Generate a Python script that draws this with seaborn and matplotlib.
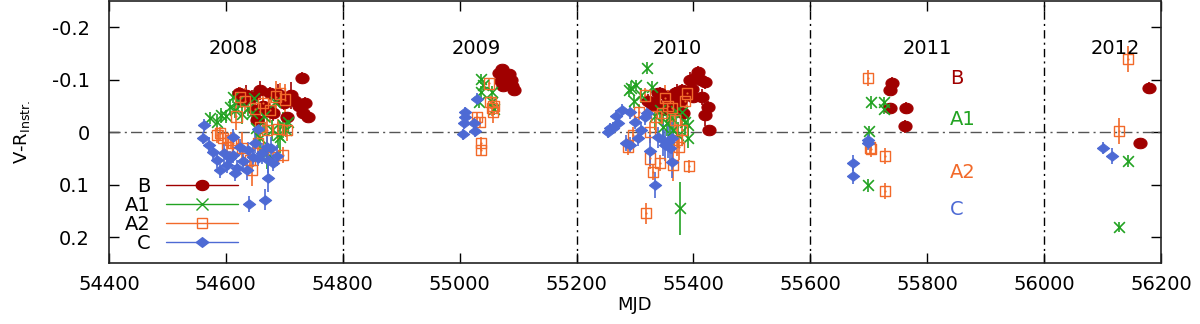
import numpy as np
import matplotlib
matplotlib.use("Agg")
import matplotlib.pyplot as plt
import seaborn as sns
from matplotlib.lines import Line2D
from matplotlib.path import Path

# component B (2008 | 2009 | 2010 | 2011 | 2012)
b_mjd = [54622, 54627, 54634, 54645, 54650, 54653, 54658, 54664, 54672, 54675, 54681,
         54689, 54695, 54700, 54705, 54712, 54718, 54725, 54730, 54732, 54736, 54741,
         55068, 55070, 55072, 55075, 55085, 55088, 55090, 55093,
         55322, 55326, 55331, 55334, 55339, 55343, 55350, 55356, 55360, 55365, 55368,
         55372, 55377, 55380, 55382, 55389, 55394, 55397, 55399, 55404, 55408, 55413,
         55415, 55420, 55420, 55425, 55427,
         55740, 55736, 55736, 55764, 55762,
         56179, 56164]
b_vr = [-0.075, -0.062, -0.070, -0.068, -0.042, -0.024, -0.080, -0.050, -0.040, -0.074, -0.036,
        -0.072, -0.062, -0.055, -0.028, -0.070, -0.060, -0.050, -0.103, -0.036, -0.055, -0.029,
        -0.112, -0.098, -0.120, -0.088, -0.110, -0.100, -0.088, -0.080,
        -0.060, -0.057, -0.051, -0.055, -0.074, -0.074, -0.045, -0.068, -0.061, -0.048, -0.074,
        -0.076, -0.060, -0.080, -0.036, -0.074, -0.099, -0.082, -0.067, -0.105, -0.114, -0.100,
        -0.067, -0.095, -0.032, -0.048, -0.004,
        -0.093, -0.080, -0.046, -0.046, -0.011,
        -0.084, 0.021]
b_err = [0.012, 0.015, 0.020, 0.012, 0.012, 0.010, 0.018, 0.015, 0.012, 0.012, 0.015,
         0.020, 0.015, 0.012, 0.010, 0.025, 0.015, 0.012, 0.012, 0.010, 0.012, 0.010,
         0.008, 0.008, 0.008, 0.008, 0.008, 0.008, 0.008, 0.008,
         0.012, 0.010, 0.012, 0.010, 0.010, 0.012, 0.015, 0.012, 0.015, 0.012, 0.012,
         0.015, 0.015, 0.012, 0.012, 0.010, 0.015, 0.012, 0.012, 0.015, 0.012, 0.012,
         0.015, 0.012, 0.020, 0.012, 0.010,
         0.012, 0.010, 0.010, 0.012, 0.012,
         0.012, 0.010]

# component A1
a1_mjd = [54573, 54585, 54592, 54600, 54607, 54612, 54615, 54620, 54628, 54638, 54645, 54648,
          54652, 54658, 54665, 54670, 54679, 54684, 54690, 54693, 54698, 54703, 54706,
          55033, 55036, 55036, 55040, 55055, 55055, 55058,
          55289, 55293, 55299, 55302, 55310, 55320, 55329, 55335, 55343, 55348, 55355,
          55360, 55365, 55370, 55374, 55377, 55380, 55385, 55391, 55391,
          55704, 55726, 55726, 55700, 55699,
          56144, 56128]
a1_vr = [-0.027, -0.020, -0.032, -0.030, -0.048, -0.067, -0.042, -0.060, -0.035, -0.046, -0.036, -0.065,
         -0.008, 0.011, -0.030, 0.040, -0.004, -0.057, 0.005, 0.010, -0.013, -0.005, -0.019,
         -0.057, -0.101, -0.076, -0.090, -0.076, -0.057, -0.045,
         -0.080, -0.085, -0.059, -0.089, -0.070, -0.122, -0.086, -0.030, -0.042, -0.010, -0.017,
         -0.030, -0.005, -0.040, 0.005, 0.145, -0.038, -0.020, -0.013, 0.011,
         -0.057, -0.057, -0.044, -0.002, 0.101,
         0.055, 0.181]
a1_err = [0.012, 0.015, 0.015, 0.012, 0.015, 0.012, 0.015, 0.015, 0.020, 0.015, 0.015, 0.015,
          0.020, 0.025, 0.030, 0.030, 0.020, 0.020, 0.025, 0.030, 0.025, 0.015, 0.020,
          0.010, 0.010, 0.012, 0.010, 0.012, 0.010, 0.012,
          0.012, 0.012, 0.012, 0.010, 0.015, 0.012, 0.012, 0.025, 0.020, 0.030, 0.025,
          0.030, 0.030, 0.025, 0.025, 0.050, 0.030, 0.025, 0.020, 0.020,
          0.012, 0.010, 0.010, 0.010, 0.012,
          0.012, 0.010]

# component A2
a2_mjd = [54585, 54590, 54595, 54602, 54608, 54612, 54618, 54624, 54628, 54633, 54641, 54645,
          54650, 54655, 54658, 54664, 54670, 54675, 54681, 54686, 54690, 54693, 54698, 54701, 54705,
          55030, 55034, 55036, 55037, 55050, 55053, 55055, 55057, 55058,
          55288, 55297, 55307, 55317, 55319, 55326, 55326, 55331, 55336, 55343, 55346,
          55351, 55356, 55363, 55365, 55368, 55372, 55375, 55380, 55385, 55389, 55392,
          55699, 55702, 55704, 55728, 55728,
          56144, 56128]
a2_vr = [0.005, 0.002, 0.011, 0.028, 0.015, 0.021, -0.030, -0.067, 0.030, -0.060, 0.053, 0.072,
         -0.045, 0.020, -0.010, -0.055, -0.004, -0.042, 0.047, -0.068, -0.006, -0.074, 0.044, -0.062, -0.004,
         -0.029, -0.019, 0.021, 0.034, -0.093, -0.057, -0.046, -0.038, -0.050,
         0.028, 0.006, -0.038, -0.070, 0.154, 0.000, 0.050, 0.076, -0.030, 0.059, -0.036,
         -0.065, -0.050, -0.046, 0.063, -0.023, 0.015, 0.028, -0.004, -0.060, -0.074, 0.065,
         -0.103, 0.029, 0.032, 0.046, 0.112,
         -0.139, -0.002]
a2_err = [0.015, 0.012, 0.015, 0.020, 0.015, 0.015, 0.025, 0.020, 0.030, 0.025, 0.025, 0.030,
          0.025, 0.025, 0.020, 0.030, 0.025, 0.025, 0.020, 0.030, 0.020, 0.020, 0.015, 0.030, 0.020,
          0.010, 0.010, 0.012, 0.012, 0.010, 0.012, 0.015, 0.020, 0.015,
          0.015, 0.015, 0.015, 0.015, 0.020, 0.020, 0.020, 0.015, 0.030, 0.015, 0.025,
          0.025, 0.030, 0.030, 0.030, 0.020, 0.030, 0.025, 0.030, 0.030, 0.025, 0.012,
          0.015, 0.015, 0.015, 0.015, 0.015,
          0.025, 0.025]

# component C
c_mjd = [54561, 54563, 54572, 54578, 54585, 54590, 54596, 54602, 54607, 54612, 54612, 54616,
         54619, 54624, 54630, 54636, 54638, 54640, 54647, 54650, 54655, 54655, 54662, 54667,
         54670, 54672, 54672, 54678, 54681, 54688,
         55006, 55007, 55009, 55009, 55024, 55026, 55030,
         55253, 55257, 55263, 55267, 55271, 55278, 55284, 55291, 55291, 55300, 55305, 55310,
         55317, 55320, 55326, 55334, 55340, 55348, 55352, 55357, 55360, 55363, 55363,
         55699, 55699, 55673, 55673,
         56101, 56116]
c_vr = [0.011, -0.013, 0.025, 0.038, 0.053, 0.072, 0.040, 0.063, 0.050, 0.044, 0.009, 0.078,
        0.068, 0.028, 0.055, 0.072, 0.034, 0.137, 0.047, 0.020, 0.050, -0.007, 0.040, 0.129,
        0.028, 0.053, 0.088, 0.030, 0.059, 0.045,
        0.004, -0.017, -0.029, -0.038, -0.017, -0.002, -0.063,
        0.000, -0.008, -0.008, -0.030, -0.017, -0.042, 0.020, -0.038, 0.025, -0.019, 0.011, -0.005,
        -0.029, -0.036, 0.035, 0.101, 0.010, 0.015, 0.025, 0.019, 0.030, 0.011, 0.057,
        0.015, 0.021, 0.059, 0.084,
        0.030, 0.046]
c_err = [0.012, 0.012, 0.015, 0.015, 0.015, 0.015, 0.020, 0.015, 0.015, 0.015, 0.015, 0.015,
         0.015, 0.015, 0.020, 0.020, 0.015, 0.015, 0.020, 0.020, 0.015, 0.015, 0.020, 0.020,
         0.020, 0.025, 0.025, 0.020, 0.015, 0.020,
         0.010, 0.010, 0.010, 0.010, 0.010, 0.012, 0.012,
         0.012, 0.010, 0.012, 0.012, 0.012, 0.012, 0.015, 0.012, 0.015, 0.012, 0.015, 0.015,
         0.015, 0.015, 0.030, 0.025, 0.020, 0.030, 0.030, 0.030, 0.030, 0.030, 0.030,
         0.012, 0.012, 0.015, 0.015,
         0.012, 0.015]

years = ["2008", "2009", "2010", "2011", "2012"]
year_mjd = [54612, 55028, 55372, 55800, 56121]
season_edges = [54800, 55200, 55600, 56000]

names = ["B", "A1", "A2", "C"]
name_vr = [-0.103, -0.025, 0.076, 0.148]
colors = {"B": "#a00000", "A1": "#22a322", "A2": "#f26a2a", "C": "#4d6ad4"}

sns.set_style("ticks")
plt.rcParams["font.family"] = ["DejaVu Sans"]
plt.rcParams["axes.unicode_minus"] = False
plt.rcParams["text.color"] = "black"
plt.rcParams["axes.labelcolor"] = "black"
plt.rcParams["xtick.color"] = "black"
plt.rcParams["ytick.color"] = "black"

# slightly wide shapes, like the stretched gnuplot symbols
t = np.linspace(0, 2 * np.pi, 40)
ellipse = Path(np.column_stack([1.25 * np.cos(t), np.sin(t)]))
diamond = Path([(-1.3, 0), (0, 1), (1.3, 0), (0, -1), (-1.3, 0)])

fig = plt.figure(figsize=(12, 3.24), dpi=100)
ax = fig.add_axes([0.0908, 0.187, 0.8767, 0.81])

ax.axhline(0, color="#555555", lw=1, ls=(0, (8, 3, 1.5, 3)), zorder=1)
for e in season_edges:
    ax.axvline(e, color="black", lw=1, ls=(0, (6, 3, 1.5, 3)), zorder=1)

series = [("B", b_mjd, b_vr, b_err), ("A1", a1_mjd, a1_vr, a1_err),
          ("A2", a2_mjd, a2_vr, a2_err), ("C", c_mjd, c_vr, c_err)]
for name, x, y, err in series:
    c = colors[name]
    ax.errorbar(x, y, yerr=err, fmt="none", ecolor=c, elinewidth=1.2, capsize=0, zorder=2)
    if name == "B":
        sns.scatterplot(x=x, y=y, marker=ellipse, s=90, color=c, edgecolor=c, ax=ax, zorder=3)
    elif name == "A1":
        sns.scatterplot(x=x, y=y, marker="x", s=60, color=c, linewidth=1.2, ax=ax, zorder=3)
    elif name == "A2":
        sns.scatterplot(x=x, y=y, marker="s", s=55, facecolor="none", edgecolor=c,
                        linewidth=1.0, ax=ax, zorder=3)
        sns.scatterplot(x=x, y=y, marker="o", s=2, color=c, edgecolor=c, ax=ax, zorder=3)
    else:
        sns.scatterplot(x=x, y=y, marker=diamond, s=80, color=c, edgecolor=c, ax=ax, zorder=3)

for yr, xm in zip(years, year_mjd):
    ax.text(xm, -0.16, yr, ha="center", va="center", fontsize=14)
for name, yv in zip(names, name_vr):
    ax.text(55839, yv, name, ha="left", va="center", fontsize=14, color=colors[name])

ax.set_xlim(54400, 56200)
ax.set_ylim(0.25, -0.25)
ax.set_xticks(np.arange(54400, 56201, 200))
ax.set_yticks([-0.2, -0.1, 0, 0.1, 0.2])
ax.set_yticklabels(["-0.2", "-0.1", "0", "0.1", "0.2"])
ax.set_xticklabels([str(v) for v in range(54400, 56201, 200)])
ax.tick_params(direction="in", top=True, right=True, length=7, width=1, labelsize=14)
ax.tick_params(axis="x", pad=8)
ax.tick_params(axis="y", pad=14)
for s in ax.spines.values():
    s.set_linewidth(1.2)
    s.set_color("#222222")
ax.set_xlabel("MJD", fontsize=13, labelpad=2)
ax.set_ylabel("V-R$_{\\rm Instr.}$", fontsize=13, labelpad=14)

handles = [
    Line2D([], [], color=colors["B"], lw=1, marker=ellipse, markersize=9),
    Line2D([], [], color=colors["A1"], lw=1, marker="x", markersize=8),
    Line2D([], [], color=colors["A2"], lw=1, marker="s", markersize=7.5,
           markerfacecolor="none"),
    Line2D([], [], color=colors["C"], lw=1, marker=diamond, markersize=9),
]
ax.legend(handles, names, loc="lower left", bbox_to_anchor=(0.015, 0.04),
          markerfirst=False, frameon=False, fontsize=14, handlelength=3.7,
          labelspacing=0.0, borderpad=0, borderaxespad=0, handletextpad=0.8)

fig.savefig("out.png", dpi=100)
